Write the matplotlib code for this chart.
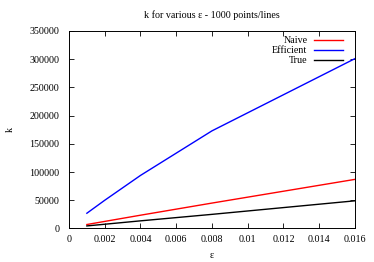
#!/usr/bin/env python3

import numpy as np
from matplotlib import pyplot as plt
from matplotlib.ticker import FuncFormatter

EPS = [0.001, 0.002, 0.004, 0.008, 0.016]
NAIVE = [7000, 12500, 23500, 45000, 87000]
EFFICIENT = [27000, 50000, 94000, 173000, 301000]
TRUE = [4500, 7500, 13500, 25000, 49000]

X_TICKS = [0, 0.002, 0.004, 0.006, 0.008, 0.01, 0.012, 0.014, 0.016]
Y_TICKS = [0, 50000, 100000, 150000, 200000, 250000, 300000, 350000]

plt.rcParams['font.family'] = ['Liberation Serif', 'DejaVu Serif']
plt.rcParams['font.size'] = 7.2

def main():
  fig = plt.figure(figsize=(3.74, 2.62), dpi=100)
  ax = fig.add_axes([0.1845, 0.128, 0.7645, 0.7537])

  ax.plot(EPS, NAIVE, color='#ff0000', lw=1.0, label='Naive')
  ax.plot(EPS, EFFICIENT, color='#0000ff', lw=1.0, label='Efficient')
  ax.plot(EPS, TRUE, color='black', lw=1.0, label='True')

  ax.set_xlim(0, 0.016)
  ax.set_ylim(0, 350000)
  ax.set_xticks(X_TICKS)
  ax.set_yticks(Y_TICKS)
  ax.xaxis.set_major_formatter(FuncFormatter(lambda v, p: '%g' % v))
  ax.yaxis.set_major_formatter(FuncFormatter(lambda v, p: '%d' % v))
  ax.tick_params(direction='in', top=True, right=True, length=3.5, width=0.6)
  ax.tick_params(axis='y', pad=7)
  ax.tick_params(axis='x', pad=5)
  for s in ax.spines.values():
    s.set_linewidth(0.7)

  ax.set_xlabel('ε', labelpad=5)
  ax.set_ylabel('k', labelpad=10)
  ax.set_title('k for various ε - 1000 points/lines', fontsize=7.2, pad=9)
  ax.legend(loc='upper right', bbox_to_anchor=(0.979, 1.0), frameon=False,
            markerfirst=False, handlelength=2.9, labelspacing=0.1,
            borderaxespad=0.25, handletextpad=0.7, borderpad=0.3)

  fig.savefig('out.png', dpi=100)

if __name__ == "__main__":
  main()
